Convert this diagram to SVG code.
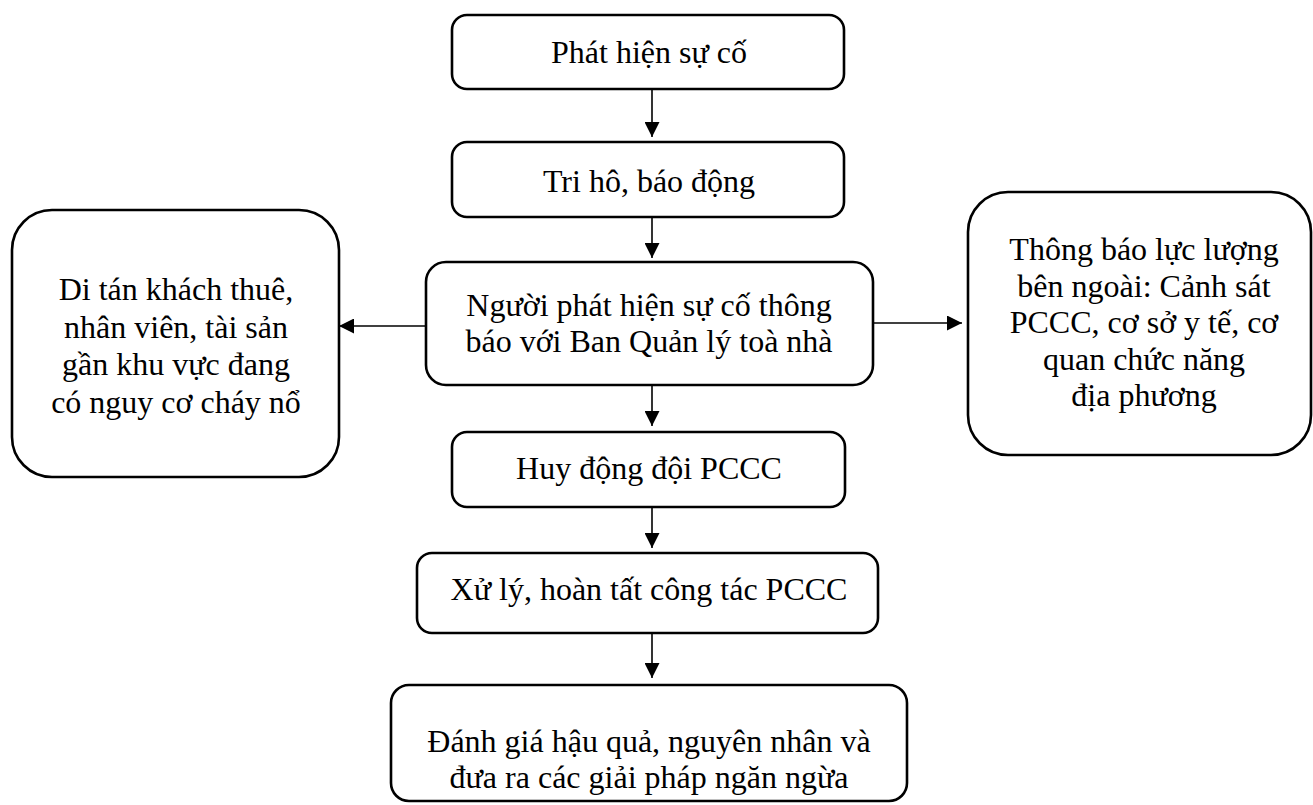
<svg xmlns="http://www.w3.org/2000/svg" width="1313" height="805" viewBox="0 0 1313 805">
<defs>
<style>
.box{fill:#fff;stroke:#000;stroke-width:2.6}
.t{font-family:"Liberation Serif","Times New Roman",serif;font-size:32px;fill:#000;text-anchor:middle}
.c{stroke:#000;stroke-width:1.6;fill:none;marker-end:url(#ah)}
</style>
<marker id="ah" viewBox="0 0 10 10" refX="10" refY="5" markerWidth="15" markerHeight="15" markerUnits="userSpaceOnUse" orient="auto">
<path d="M0,0 L10,5 L0,10 z" fill="#000"/>
</marker>
</defs>
<rect width="1313" height="805" fill="#fff"/>
<g id="connectors">
<line class="c" x1="652" y1="89" x2="652" y2="137"/>
<line class="c" x1="652" y1="217" x2="652" y2="258"/>
<line class="c" x1="652" y1="385" x2="652" y2="426"/>
<line class="c" x1="652" y1="507" x2="652" y2="548"/>
<line class="c" x1="652" y1="633" x2="652" y2="678"/>
<line class="c" x1="426" y1="326" x2="339" y2="326"/>
<line class="c" x1="873" y1="323" x2="962" y2="323"/>
</g>
<g id="n1">
<rect class="box" x="452" y="15" width="392" height="74" rx="15"/>
<text class="t" x="649" y="63">Phát hiện sự cố</text>
</g>
<g id="n2">
<rect class="box" x="452" y="142" width="392" height="75" rx="15"/>
<text class="t" x="649" y="192">Tri hô, báo động</text>
</g>
<g id="n3">
<rect class="box" x="426" y="262" width="447" height="123" rx="20"/>
<text class="t"><tspan x="649" y="316">Người phát hiện sự cố thông</tspan><tspan x="649" y="352">báo với Ban Quản lý toà nhà</tspan></text>
</g>
<g id="n4">
<rect class="box" x="452" y="432" width="393" height="75" rx="15"/>
<text class="t" x="649" y="479">Huy động đội PCCC</text>
</g>
<g id="n5">
<rect class="box" x="417" y="553" width="461" height="80" rx="15"/>
<text class="t" x="649" y="600">Xử lý, hoàn tất công tác PCCC</text>
</g>
<g id="n6">
<rect class="box" x="391" y="685" width="516" height="116" rx="18"/>
<text class="t"><tspan x="649" y="752">Đánh giá hậu quả, nguyên nhân và</tspan><tspan x="649" y="788">đưa ra các giải pháp ngăn ngừa</tspan></text>
</g>
<g id="left">
<rect class="box" x="12" y="210" width="327" height="267" rx="40"/>
<text class="t"><tspan x="176" y="300">Di tán khách thuê,</tspan><tspan x="176" y="337.5">nhân viên, tài sản</tspan><tspan x="176" y="375">gần khu vực đang</tspan><tspan x="176" y="412.5">có nguy cơ cháy nổ</tspan></text>
</g>
<g id="right">
<rect class="box" x="968" y="192" width="343" height="263" rx="40"/>
<text class="t"><tspan x="1144" y="260">Thông báo lực lượng</tspan><tspan x="1144" y="296.5">bên ngoài: Cảnh sát</tspan><tspan x="1144" y="333">PCCC, cơ sở y tế, cơ</tspan><tspan x="1144" y="369.5">quan chức năng</tspan><tspan x="1144" y="406">địa phương</tspan></text>
</g>
</svg>
